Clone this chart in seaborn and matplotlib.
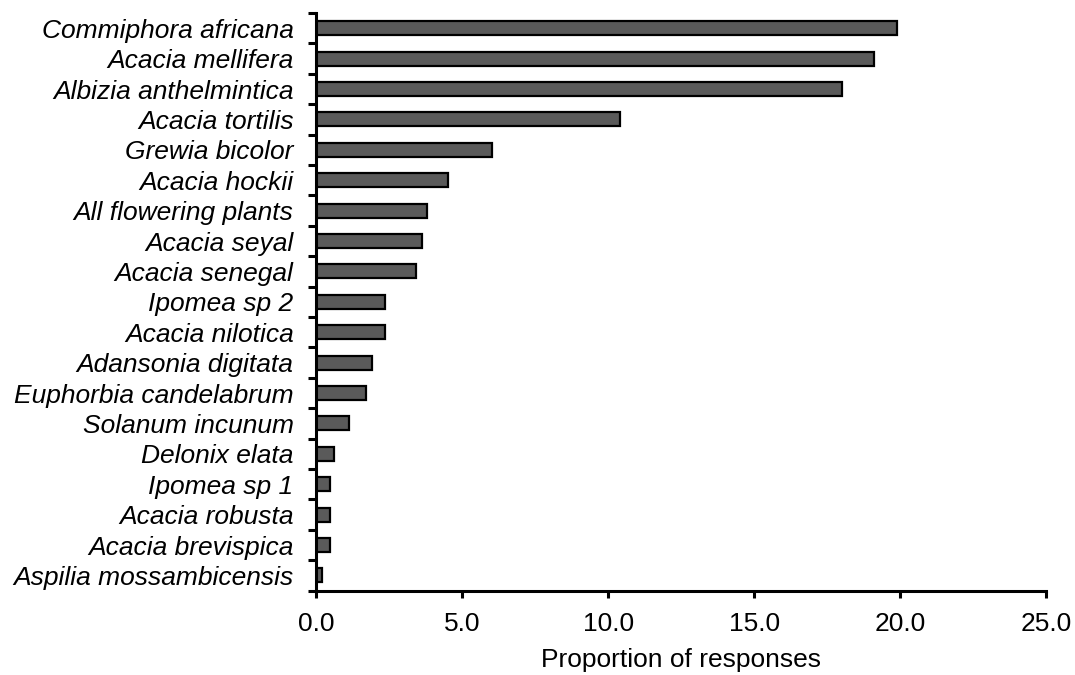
import matplotlib
matplotlib.use("Agg")
import matplotlib.pyplot as plt
import seaborn as sns
import pandas as pd
import numpy as np
from matplotlib.ticker import FixedLocator, FormatStrFormatter

species = [
    "Commiphora africana", "Acacia mellifera", "Albizia anthelmintica",
    "Acacia tortilis", "Grewia bicolor", "Acacia hockii",
    "All flowering plants", "Acacia seyal", "Acacia senegal",
    "Ipomea sp 2", "Acacia nilotica", "Adansonia digitata",
    "Euphorbia candelabrum", "Solanum incunum", "Delonix elata",
    "Ipomea sp 1", "Acacia robusta", "Acacia brevispica",
    "Aspilia mossambicensis",
]
proportion = [19.9, 19.1, 18.0, 10.4, 6.0, 4.5, 3.8, 3.6, 3.4, 2.35, 2.35,
              1.9, 1.7, 1.1, 0.6, 0.45, 0.45, 0.45, 0.2]
x_ticks = [0, 5, 10, 15, 20, 25]

df = pd.DataFrame({"species": species, "proportion": proportion})

sns.set_style("ticks")
plt.rcParams["font.family"] = ["Liberation Sans", "DejaVu Sans"]
for key in ("text.color", "axes.labelcolor", "xtick.color", "ytick.color",
            "axes.edgecolor"):
    plt.rcParams[key] = "black"

fig = plt.figure(figsize=(10.75, 6.75), dpi=100)
ax = fig.add_axes([0.2944, 0.1249, 0.6786, 0.8558])

sns.barplot(data=df, x="proportion", y="species", orient="h",
            color="#5a5a5a", saturation=1, edgecolor="black",
            linewidth=1.6, width=0.46, ax=ax)

n = len(species)
ax.set_xlim(0, 25)
ax.set_ylim(n - 0.5, -0.5)

ax.xaxis.set_major_locator(FixedLocator(x_ticks))
ax.xaxis.set_major_formatter(FormatStrFormatter("%.1f"))

# category labels sit between boundary tick marks
ax.yaxis.set_minor_locator(FixedLocator(np.arange(-0.5, n, 1.0)))
ax.tick_params(axis="y", which="major", length=0, pad=16.5, labelsize=19,
               labelcolor="black")
ax.tick_params(axis="y", which="minor", length=6, width=2.2, color="black")
ax.tick_params(axis="x", which="major", length=5, width=2.2, pad=10,
               labelsize=19, color="black", labelcolor="black")
for lab in ax.get_yticklabels():
    lab.set_fontstyle("italic")

for side in ("top", "right"):
    ax.spines[side].set_visible(False)
for side in ("left", "bottom"):
    ax.spines[side].set_linewidth(2.2)
    ax.spines[side].set_color("black")

ax.set_ylabel("")
ax.set_xlabel("Proportion of responses", fontsize=19, labelpad=9,
              color="black")

fig.savefig("out.png", dpi=100, facecolor="white")
